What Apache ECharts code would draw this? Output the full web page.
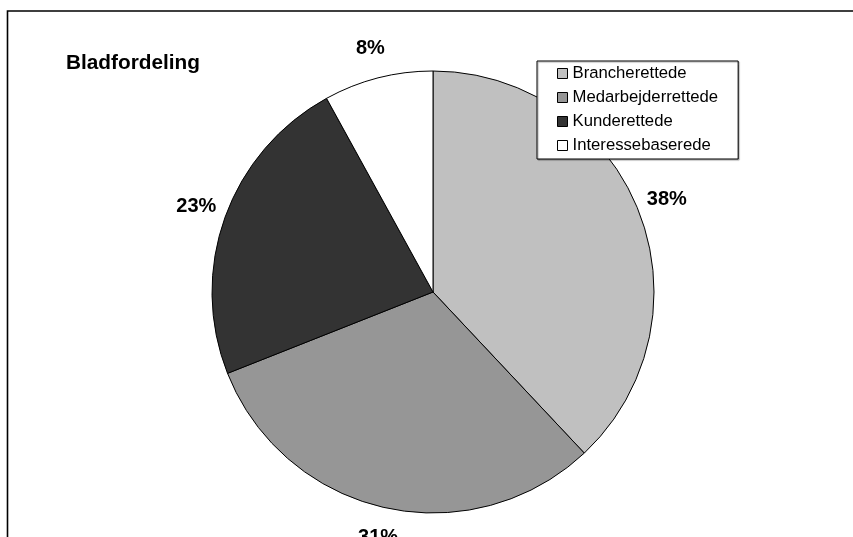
<!DOCTYPE html>
<html><head><meta charset="utf-8">
<script src="https://cdn.jsdelivr.net/npm/echarts@6/dist/echarts.min.js"></script>
<style>html,body{margin:0;padding:0;background:#fff}#c{width:853px;height:537px}</style>
</head><body><div id="c"></div>
<script>
const categories = ['Brancherettede', 'Medarbejderrettede', 'Kunderettede', 'Interessebaserede'];
const values = [38, 31, 23, 8];
const colors = ['#c0c0c0', '#969696', '#333333', '#ffffff'];
const titleText = 'Bladfordeling';

const FONT = '"Liberation Sans", Arial, sans-serif';
const pieData = categories.map((name, i) => ({
  name: name,
  value: values[i],
  itemStyle: { color: colors[i] }
}));

const chart = echarts.init(document.getElementById('c'), null, { renderer: 'canvas' });
chart.setOption({
  animation: false,
  backgroundColor: '#ffffff',
  title: {
    text: titleText,
    left: 66, top: 53, padding: 0,
    textStyle: { fontFamily: FONT, fontSize: 20.8, fontWeight: 'bold', color: '#000' }
  },
  legend: {
    data: categories,
    orient: 'vertical',
    left: 537, top: 61,
    padding: [4, 20, 5, 20],
    itemGap: 7,
    itemWidth: 10, itemHeight: 10,
    icon: 'rect',
    backgroundColor: '#fff',
    borderColor: '#000', borderWidth: 1,
    shadowColor: 'rgba(0,0,0,0.35)', shadowOffsetX: 1, shadowOffsetY: 1, shadowBlur: 1,
    textStyle: { fontFamily: FONT, fontSize: 16.7, color: '#000' },
    itemStyle: { borderColor: '#000', borderWidth: 1 }
  },
  graphic: [{
    type: 'rect',
    shape: { x: 7.5, y: 11, width: 1000, height: 1000 },
    style: { fill: 'none', stroke: '#000', lineWidth: 1.6 },
    silent: true, z: 100
  }],
  series: [{
    type: 'pie',
    center: [433, 292],
    radius: 221,
    startAngle: 90,
    clockwise: true,
    avoidLabelOverlap: false,
    label: { show: false },
    labelLine: { show: false },
    itemStyle: { borderColor: '#000', borderWidth: 1 },
    emphasis: { disabled: true },
    data: pieData
  }, {
    type: 'pie',
    center: [433, 292],
    radius: [221, 276],
    startAngle: 90,
    clockwise: true,
    silent: true,
    avoidLabelOverlap: false,
    itemStyle: { color: 'rgba(0,0,0,0)', borderWidth: 0 },
    label: {
      show: true, position: 'inside',
      formatter: '{c}%',
      fontFamily: FONT, fontSize: 20, fontWeight: 'bold', color: '#000'
    },
    labelLine: { show: false },
    emphasis: { disabled: true },
    data: categories.map((name, i) => ({ name: name, value: values[i] }))
  }]
});
</script>
</body></html>
